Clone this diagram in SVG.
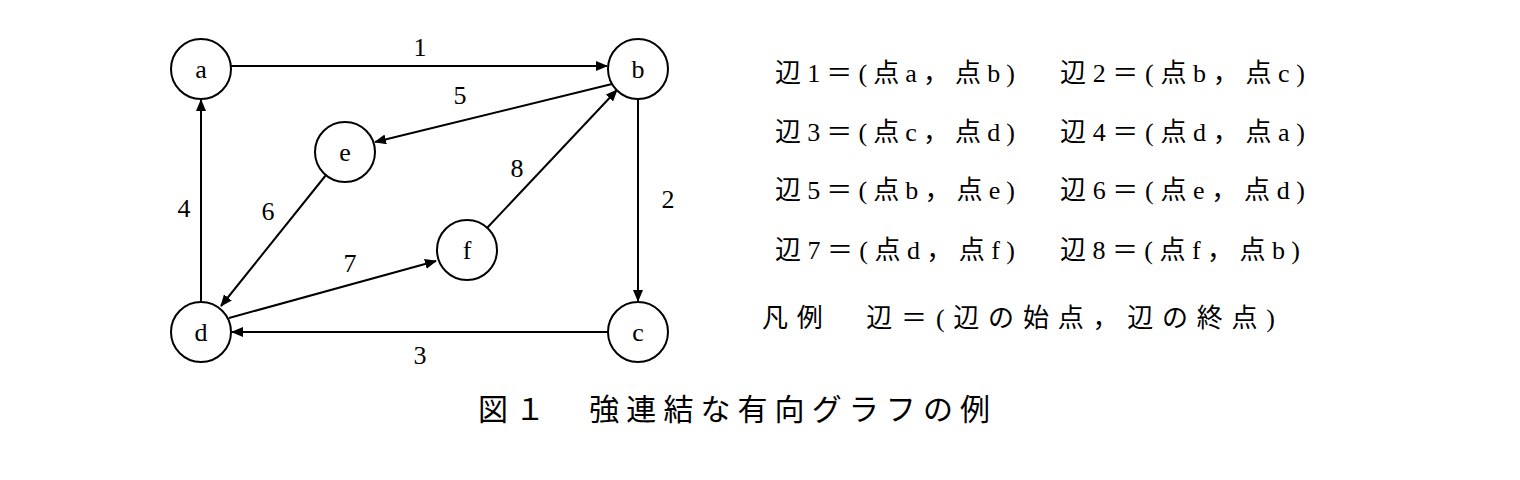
<svg xmlns="http://www.w3.org/2000/svg" width="1520" height="480" viewBox="0 0 1520 480">
<style>
.n{fill:#fff;stroke:#000;stroke-width:2}
.t{font-family:"Liberation Serif","Noto Sans CJK JP",serif;font-size:26px;fill:#000}
.c{text-anchor:middle}
.e{stroke:#000;stroke-width:2;fill:none;marker-end:url(#ah)}
</style>
<defs><marker id="ah" markerWidth="12" markerHeight="10" refX="11" refY="5" orient="auto" markerUnits="userSpaceOnUse"><path d="M0,0 L12,5 L0,10 Z" fill="#000"/></marker></defs>
<rect width="1520" height="480" fill="#fff"/>
<g id="edges">
<line class="e" x1="231" y1="66" x2="607" y2="66"/>
<line class="e" x1="638" y1="99" x2="638" y2="301"/>
<line class="e" x1="608" y1="332" x2="232" y2="332"/>
<line class="e" x1="201" y1="302" x2="201" y2="100"/>
<line class="e" x1="612" y1="84" x2="375" y2="142"/>
<line class="e" x1="326" y1="175" x2="221" y2="306"/>
<line class="e" x1="229" y1="318" x2="436" y2="261"/>
<line class="e" x1="487" y1="228" x2="617" y2="90"/>
<text class="t c" x="420" y="56">1</text>
<text class="t c" x="668" y="208">2</text>
<text class="t c" x="420" y="364">3</text>
<text class="t c" x="184" y="217">4</text>
<text class="t c" x="460" y="104">5</text>
<text class="t c" x="268" y="220">6</text>
<text class="t c" x="350" y="272">7</text>
<text class="t c" x="517" y="177">8</text>
</g>
<g id="a"><circle class="n" cx="201" cy="69" r="30"/><text class="t c" x="201" y="78">a</text></g>
<g id="b"><circle class="n" cx="638" cy="69" r="30"/><text class="t c" x="638" y="78">b</text></g>
<g id="e"><circle class="n" cx="345" cy="152" r="30"/><text class="t c" x="345" y="161">e</text></g>
<g id="f"><circle class="n" cx="467" cy="250" r="30"/><text class="t c" x="467" y="259">f</text></g>
<g id="d"><circle class="n" cx="201" cy="332" r="30"/><text class="t c" x="201" y="341">d</text></g>
<g id="c"><circle class="n" cx="638" cy="332" r="30"/><text class="t c" x="638" y="341">c</text></g>
<g id="legend" class="t" lengthAdjust="spacing">
<text x="775" y="82" textLength="240">辺1＝(点a，点b)</text><text x="1060" y="82" textLength="245">辺2＝(点b，点c)</text>
<text x="775" y="141" textLength="240">辺3＝(点c，点d)</text><text x="1060" y="141" textLength="245">辺4＝(点d，点a)</text>
<text x="775" y="199" textLength="240">辺5＝(点b，点e)</text><text x="1060" y="199" textLength="245">辺6＝(点e，点d)</text>
<text x="775" y="259" textLength="240">辺7＝(点d，点f)</text><text x="1060" y="259" textLength="240">辺8＝(点f，点b)</text>
<text x="762" y="327" textLength="513">凡例　辺＝(辺の始点，辺の終点)</text>
</g>
<text class="t" x="478" y="420" textLength="512" style="font-size:30px">図１　強連結な有向グラフの例</text>
</svg>
